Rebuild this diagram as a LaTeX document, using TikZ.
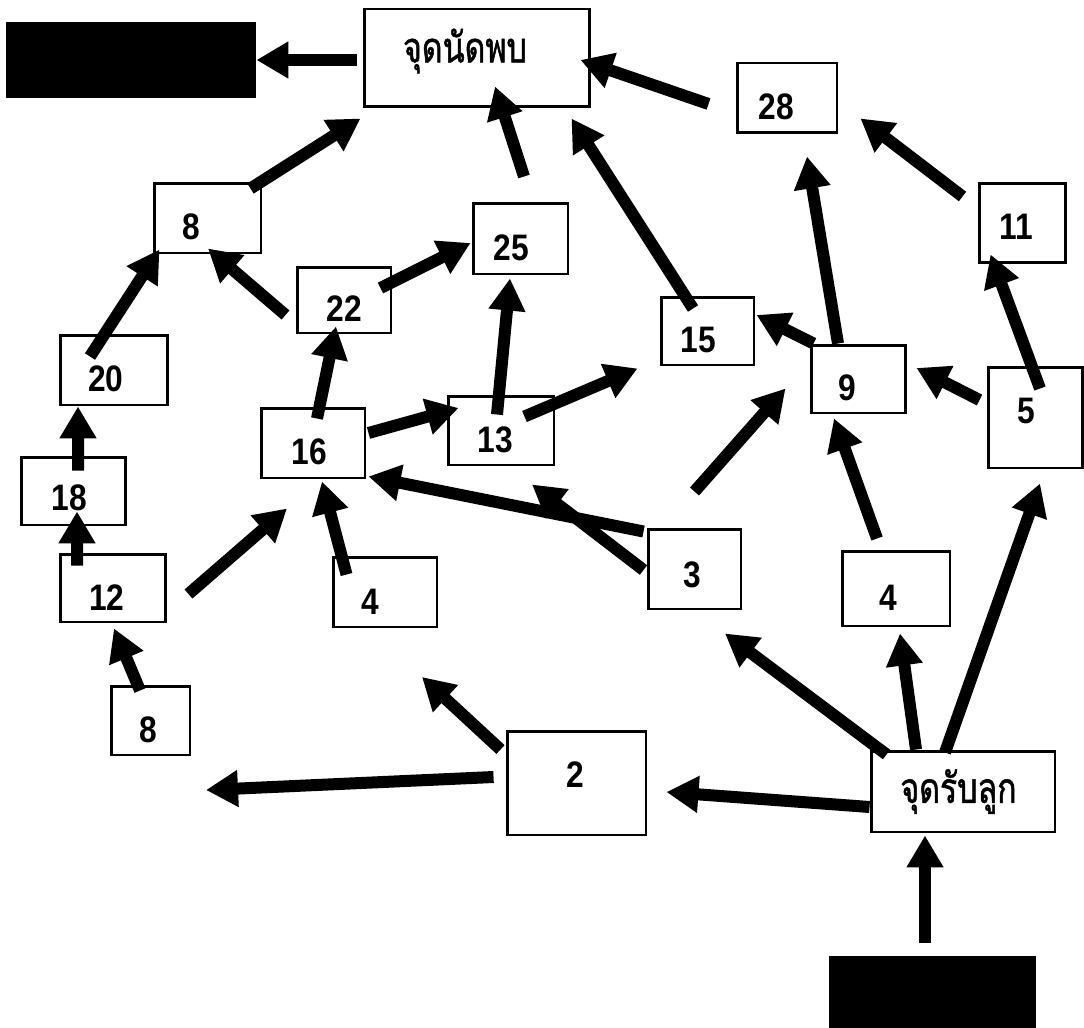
\documentclass[tikz,border=0pt]{standalone}
\usepackage{fontspec}
\setmainfont{Liberation Sans}
\newfontfamily\numfont[FakeStretch=0.86]{Liberation Sans}
\newfontfamily\thaifont[Script=Thai, FakeStretch=0.76, FakeBold=1.2]{Loma}
\usetikzlibrary{arrows.meta}

\begin{document}
\begin{tikzpicture}[
  x=0.02cm, y=-0.02cm,
  frame/.style={draw, line width=1.7pt, inner sep=1pt},
  box/.style={frame, font=\fontsize{21}{25}\selectfont\numfont\bfseries,
              text height=0.88cm, text depth=0pt, execute at end node={\hspace{#1}}},
  box/.default=0.28cm,
  place/.style={frame, font=\fontsize{24}{28}\selectfont\thaifont,
                execute at end node={\hspace{#1}}},
  place/.default=0cm,
  blk/.style={frame, fill=black},
  arr/.style={-{Triangle[length=0.64cm, width=0.7cm]}, line width=0.24cm}
]
  \fill[white] (0,0) rectangle (1084,1027);
  \useasboundingbox (0,0) rectangle (1084,1027);

  % boxes
  \node[blk, minimum width=4.96cm, minimum height=1.48cm] (blkTop) at (131,60) {};
  \node[place=0.48cm, minimum width=4.52cm, minimum height=1.96cm] (meet) at (477,58) {\raisebox{0.14cm}[\height][\depth]{จุดนัดพบ}};
  \node[box=0.44cm, minimum width=2cm, minimum height=1.4cm] (b28) at (787,98) {28};
  \node[box=0.24cm, minimum width=1.72cm, minimum height=1.6cm, text height=0.68cm] (b11) at (1022,223) {11};
  \node[box=0.64cm, minimum width=2.14cm, minimum height=1.4cm] (b8a) at (207.5,218) {8};
  \node[box=0.36cm, minimum width=1.9cm, minimum height=1.42cm] (b25) at (520.5,238.5) {25};
  \node[box=0cm, minimum width=1.88cm, minimum height=1.32cm] (b22) at (344,300) {22};
  \node[box=0.36cm, minimum width=1.86cm, minimum height=1.36cm] (b15) at (707.5,331) {15};
  \node[box=0.32cm, minimum width=2.16cm, minimum height=1.4cm] (b20) at (114,370) {20};
  \node[box=0.44cm, minimum width=1.88cm, minimum height=1.36cm] (b9) at (858,379) {9};
  \node[box=0.36cm, minimum width=1.88cm, minimum height=2.02cm, text height=0.52cm, text depth=0.28cm] (b5) at (1035,417.5) {5};
  \node[box=0.16cm, minimum width=2.08cm, minimum height=1.4cm] (b16) at (313,443) {16};
  \node[box=0.24cm, minimum width=2.12cm, minimum height=1.38cm] (b13) at (501,430.5) {13};
  \node[box=0.16cm, minimum width=2.1cm, minimum height=1.36cm, text height=0.76cm] (b18) at (73.5,491) {18};
  \node[box=0.24cm, minimum width=2.12cm, minimum height=1.36cm] (b12) at (113,588) {12};
  \node[box=0.6cm, minimum width=2.08cm, minimum height=1.4cm] (b4a) at (385,592) {4};
  \node[box=0.08cm, minimum width=1.86cm, minimum height=1.6cm, text height=0.72cm] (b3) at (694.5,569) {3};
  \node[box=0.32cm, minimum width=2.16cm, minimum height=1.5cm] (b4b) at (896,588.5) {4};
  \node[box=0.08cm, minimum width=1.58cm, minimum height=1.38cm] (b8b) at (150.5,720.5) {8};
  \node[box=0.04cm, minimum width=2.78cm, minimum height=2.08cm, text height=0.52cm, text depth=0.36cm] (b2) at (576.5,783) {2};
  \node[place=0.18cm, minimum width=3.68cm, minimum height=1.62cm] (catch) at (963,791.5) {จุดรับลูก};
  \node[blk, minimum width=4.1cm, minimum height=1.4cm] (blkBot) at (932.5,992) {};

  % free ends
  \coordinate (w2) at (206,790);
  \coordinate (nw2) at (422,677);

  % arrows
  \draw[arr] ([shift={(-6,2)}]meet.west) -- (blkTop.east);
  \draw[arr] ([shift={(-27,6)}]b28.west) -- ([shift={(-11,2)}]meet.east);
  \draw[arr] ([shift={(-15,15)}]b11.north west) -- ([shift={(22,-16)}]b28.south east);
  \draw[arr] ([shift={(-14.5,13)}]b15.north) -- ([shift={(-20,10)}]meet.south east);
  \draw[arr] ([shift={(-20,0)}]b9.north) -- ([shift={(20,22)}]b28.south);
  \draw[arr] ([shift={(4,0)}]b9.north west) -- ([shift={(1,-16)}]b15.east);
  \draw[arr] ([shift={(-7,-17.5)}]b5.west) -- ([shift={(10,-11)}]b9.east);
  \draw[arr] ([shift={(5,23)}]b5.north) -- ([shift={(13,-10)}]b11.south west);
  \draw[arr] ([shift={(-19,-11)}]b4b.north) -- ([shift={(-24,4)}]b9.south);
  \draw[arr] ([shift={(0,-36)}]b3.north) -- ([shift={(-24,-26)}]b9.south west);
  \draw[arr] ([shift={(-31,22)}]b13.north east) -- ([shift={(-22,2)}]b15.south west);
  \draw[arr] ([shift={(-4,20)}]b13.north) -- ([shift={(-10.5,3)}]b25.south);
  \draw[arr] ([shift={(3.5,-25)}]b25.north) -- ([shift={(18,-22)}]meet.south);
  \draw[arr] ([shift={(-12,-12)}]b22.east) -- ([shift={(-1,4.5)}]b25.west);
  \draw[arr] ([shift={(-10,15)}]b22.west) -- ([shift={(0.5,-6)}]b8a.south);
  \draw[arr] ([shift={(-12,7)}]b8a.north east) -- ([shift={(-2,10)}]meet.south west);
  \draw[arr] ([shift={(-24,23)}]b20.north) -- ([shift={(7,-5)}]b8a.south west);
  \draw[arr] ([shift={(4.5,15)}]b18.north) -- ([shift={(-36,0)}]b20.south);
  \draw[arr] ([shift={(-36,13)}]b12.north) -- ([shift={(3.5,-15)}]b18.south);
  \draw[arr] ([shift={(-10.5,6)}]b8b.north) -- ([shift={(1,5)}]b12.south);
  \draw[arr] ([shift={(21,6)}]b12.east) -- ([shift={(-26,29)}]b16.south);
  \draw[arr] ([shift={(15,19)}]b4a.north west) -- ([shift={(9,2)}]b16.south);
  \draw[arr] ([shift={(-3,4)}]b3.north west) -- ([shift={(2,-3)}]b16.south east);
  \draw[arr] ([shift={(-3,1)}]b3.west) -- ([shift={(31,18)}]b13.south);
  \draw[arr] ([shift={(4,12)}]b16.north) -- ([shift={(-8,-8)}]b22.south);
  \draw[arr] ([shift={(2,-10)}]b16.east) -- ([shift={(12,-22.5)}]b13.west);
  \draw[arr] ([shift={(0,15.5)}]catch.west) -- ([shift={(19,9)}]b2.east);
  \draw[arr] ([shift={(17,5)}]catch.north west) -- ([shift={(30.5,23)}]b3.south);
  \draw[arr] ([shift={(-47,0)}]catch.north) -- ([shift={(4,6)}]b4b.south);
  \draw[arr] ([shift={(-18,3)}]catch.north) -- ([shift={(5,14)}]b5.south);
  \draw[arr] ([shift={(-7.5,-13)}]blkBot.north) -- ([shift={(-38,2)}]catch.south);
  \draw[arr] ([shift={(-12,-6)}]b2.west) -- (w2);
  \draw[arr] ([shift={(-5,20)}]b2.north west) -- (nw2);
\end{tikzpicture}
\end{document}
